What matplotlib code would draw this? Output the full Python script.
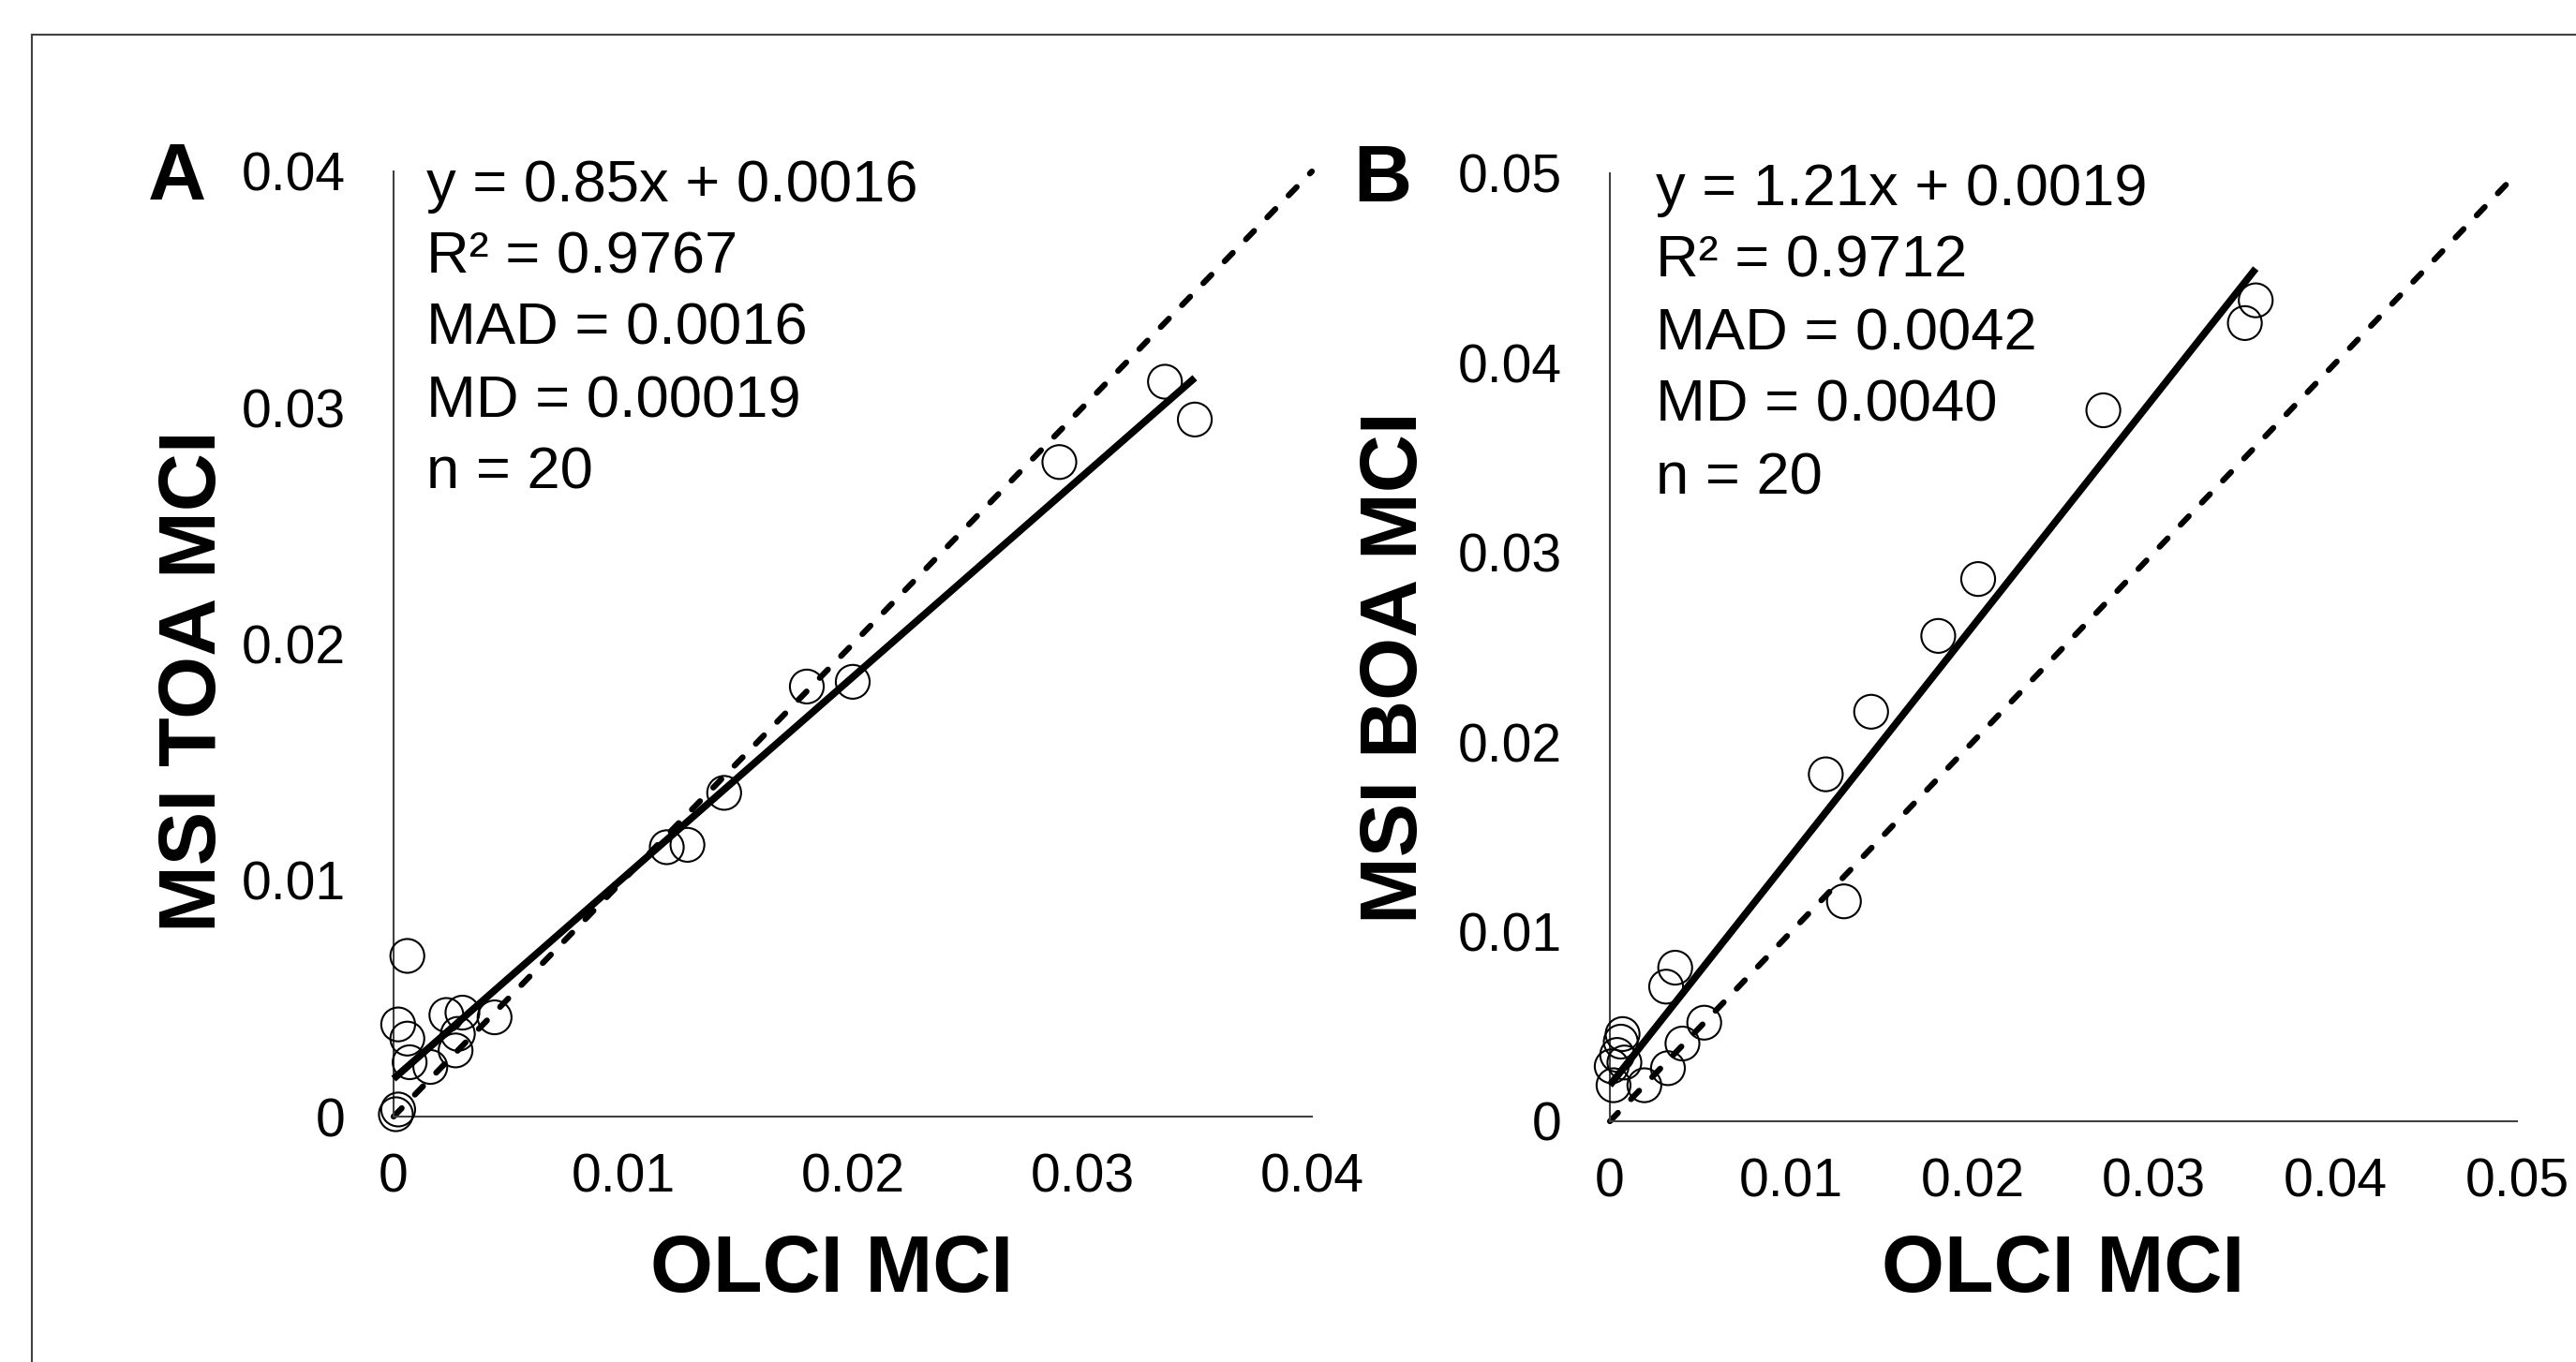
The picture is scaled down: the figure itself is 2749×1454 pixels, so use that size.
import matplotlib
matplotlib.use("Agg")
import matplotlib.pyplot as plt
from matplotlib.lines import Line2D
import numpy as np

plt.rcParams['font.family'] = ['Liberation Sans', 'DejaVu Sans']
plt.rcParams['lines.scale_dashes'] = False

# ---------------- data ----------------
olci_a = [0.0336, 0.0349, 0.0290, 0.0200, 0.0180, 0.0144, 0.0128, 0.0119,
          0.0002, 0.0006, 0.0007, 0.0016, 0.0023, 0.0030, 0.0028, 0.0027,
          0.0044, 0.0002, 0.0001, 0.0006]
msi_toa = [0.0311, 0.0295, 0.0277, 0.0184, 0.0182, 0.0137, 0.0115, 0.0114,
           0.0039, 0.0033, 0.0023, 0.0021, 0.0043, 0.0044, 0.0035, 0.0028,
           0.0042, 0.0003, 0.0001, 0.0068]

olci_b = [0.0356, 0.0350, 0.0272, 0.0203, 0.0181, 0.0144, 0.0119, 0.0129,
          0.0036, 0.0031, 0.0007, 0.0006, 0.0001, 0.0008, 0.0002, 0.0019,
          0.0032, 0.0040, 0.0052, 0.0004]
msi_boa = [0.0433, 0.0421, 0.0375, 0.0286, 0.0256, 0.0216, 0.0183, 0.0116,
           0.0081, 0.0071, 0.0046, 0.0042, 0.0029, 0.0031, 0.0019, 0.0019,
           0.0028, 0.0041, 0.0052, 0.0035]

fit_a = (0.85, 0.0016)
fit_b = (1.21, 0.0019)

stats_a = ["y = 0.85x + 0.0016", "R² = 0.9767", "MAD = 0.0016", "MD = 0.00019", "n = 20"]
stats_b = ["y = 1.21x + 0.0019", "R² = 0.9712", "MAD = 0.0042", "MD = 0.0040", "n = 20"]

ticks_a = [0, 0.01, 0.02, 0.03, 0.04]
ticklabels_a = ["0", "0.01", "0.02", "0.03", "0.04"]
ticks_b = [0, 0.01, 0.02, 0.03, 0.04, 0.05]
ticklabels_b = ["0", "0.01", "0.02", "0.03", "0.04", "0.05"]

xlabel = "OLCI MCI"
ylabel_a = "MSI TOA MCI"
ylabel_b = "MSI BOA MCI"

# ---------------- layout ----------------
W, H = 2749, 1454
fig = plt.figure(figsize=(W / 100, H / 100), dpi=100)
fig.patch.set_facecolor('white')


def fx(x):
    return x / W


def fy(y):
    return 1 - y / H


def make_axes(left, right, top, bottom):
    return fig.add_axes([fx(left), fy(bottom), (right - left) / W, (bottom - top) / H])


axA = make_axes(420, 1400, 183, 1192)
axB = make_axes(1718, 2686, 185, 1197)

AXIS_COL = '#404040'
TICK_FS = 41
STAT_FS = 45.5
LABEL_FS = 62


def style(ax, ticks, labels, lim):
    ax.set_xlim(0, lim)
    ax.set_ylim(0, lim)
    for s in ['top', 'right']:
        ax.spines[s].set_visible(False)
    for s in ['left', 'bottom']:
        ax.spines[s].set_color(AXIS_COL)
        ax.spines[s].set_linewidth(1.5)
    ax.set_xticks(ticks)
    ax.set_xticklabels(labels)
    ax.set_yticks(ticks)
    ax.set_yticklabels(labels)
    ax.tick_params(axis='both', length=0, labelsize=TICK_FS, colors='black')
    ax.tick_params(axis='x', pad=28)
    ax.tick_params(axis='y', pad=37)
    ax.set_facecolor('none')


def draw(ax, x, y, fit, lim):
    x = np.asarray(x)
    y = np.asarray(y)
    # 1:1 line
    ax.plot([0, lim], [0, lim], color='black', lw=4.5, linestyle=(0, (9, 14.5)),
            dash_capstyle='round', clip_on=False, zorder=2)
    # regression line
    xs = np.array([0, x.max()])
    ax.plot(xs, fit[0] * xs + fit[1], color='black', lw=5.5, solid_capstyle='butt',
            clip_on=False, zorder=3)
    ax.scatter(x, y, s=26 ** 2, facecolors='none', edgecolors='black', linewidths=1.5,
               clip_on=False, zorder=4)


style(axA, ticks_a, ticklabels_a, 0.04)
style(axB, ticks_b, ticklabels_b, 0.05)
draw(axA, olci_a, msi_toa, fit_a, 0.04)
draw(axB, olci_b, msi_boa, fit_b, 0.05)

# statistics text
baselines_a = [215, 292, 368, 445, 522]
baselines_b = [219, 296, 373, 449, 527]
for t, yb in zip(stats_a, baselines_a):
    fig.text(fx(455), fy(yb), t, fontsize=STAT_FS, ha='left', va='baseline')
for t, yb in zip(stats_b, baselines_b):
    fig.text(fx(1767), fy(yb), t, fontsize=STAT_FS, ha='left', va='baseline')

# panel letters
fig.text(fx(158), fy(213), "A", fontsize=LABEL_FS, fontweight='bold', ha='left', va='baseline')
fig.text(fx(1444), fy(215), "B", fontsize=LABEL_FS, fontweight='bold', ha='left', va='baseline')

# axis labels
fig.text(fx(888), fy(1379), xlabel, fontsize=LABEL_FS, fontweight='bold', ha='center', va='baseline')
fig.text(fx(2202), fy(1379), xlabel, fontsize=LABEL_FS, fontweight='bold', ha='center', va='baseline')
fig.text(fx(230), fy(727), ylabel_a, fontsize=LABEL_FS, fontweight='bold', ha='center',
         va='baseline', rotation=90, rotation_mode='anchor')
fig.text(fx(1512), fy(713), ylabel_b, fontsize=LABEL_FS, fontweight='bold', ha='center',
         va='baseline', rotation=90, rotation_mode='anchor')

# outer frame (top and left edges visible)
fig.add_artist(Line2D([fx(34), 1.0], [fy(37), fy(37)], color=AXIS_COL, lw=1.5))
fig.add_artist(Line2D([fx(34), fx(34)], [fy(37), 0.0], color=AXIS_COL, lw=1.5))

fig.savefig("out.png", dpi=100, facecolor='white')
